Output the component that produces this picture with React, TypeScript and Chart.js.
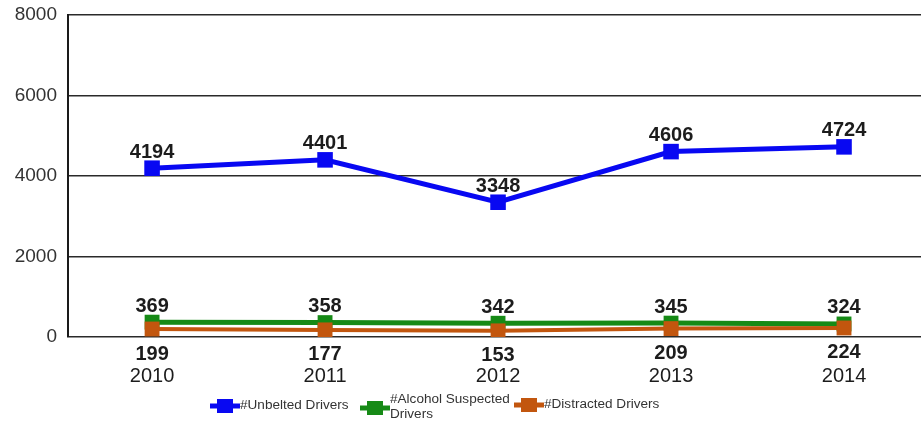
import React, { useEffect, useRef } from "react";
import { Chart, registerables } from "chart.js";

Chart.register(...registerables);

const years = [2010, 2011, 2012, 2013, 2014];
const unbelted = [4194, 4401, 3348, 4606, 4724];
const alcohol = [369, 358, 342, 345, 324];
const distracted = [199, 177, 153, 209, 224];
const yTicks = [0, 2000, 4000, 6000, 8000];
const seriesNames = ["#Unbelted Drivers", "#Alcohol Suspected Drivers", "#Distracted Drivers"];

const BLUE = "#0808f2";
const GREEN = "#168a16";
const BROWN = "#c2560e";
const FONT = '"Liberation Sans", Arial, sans-serif';

const CANVAS_W = 932;
const CANVAS_H = 423;

const labelOffsets = [-16, -16, 25];

const valueLabels = {
  id: "valueLabels",
  afterDatasetsDraw(chart: any) {
    const ctx = chart.ctx;
    ctx.save();
    ctx.font = `bold 20px ${FONT}`;
    ctx.fillStyle = "#1c1c1c";
    ctx.textAlign = "center";
    ctx.textBaseline = "middle";
    chart.data.datasets.forEach((ds: any, di: number) => {
      const meta = chart.getDatasetMeta(di);
      meta.data.forEach((el: any, i: number) => {
        ctx.fillText(String(ds.data[i].y), el.x, el.y + labelOffsets[di]);
      });
    });
    ctx.restore();
  },
};

const customLegend = {
  id: "customLegend",
  afterDraw(chart: any) {
    const ctx = chart.ctx;
    const items = [
      { x: 210, y: 406, color: BLUE, lines: [seriesNames[0]] },
      { x: 360, y: 408, color: GREEN, lines: ["#Alcohol Suspected", "Drivers"] },
      { x: 514, y: 405, color: BROWN, lines: [seriesNames[2]] },
    ];
    ctx.save();
    ctx.font = `12px ${FONT}`;
    ctx.textAlign = "left";
    ctx.textBaseline = "middle";
    const txt = (s: string, x: number, y: number) => {
      ctx.save();
      ctx.translate(x, y);
      ctx.scale(1.13, 1);
      ctx.fillText(s, 0, 0);
      ctx.restore();
    };
    items.forEach((it) => {
      ctx.strokeStyle = it.color;
      ctx.lineWidth = 5;
      ctx.beginPath();
      ctx.moveTo(it.x, it.y);
      ctx.lineTo(it.x + 30, it.y);
      ctx.stroke();
      ctx.fillStyle = it.color;
      ctx.fillRect(it.x + 7, it.y - 7, 16, 14);
      ctx.fillStyle = "#333";
      if (it.lines.length === 1) {
        txt(it.lines[0], it.x + 30, it.y);
      } else {
        txt(it.lines[0], it.x + 30, it.y - 8);
        txt(it.lines[1], it.x + 30, it.y + 7);
      }
    });
    ctx.restore();
  },
};

export default function App() {
  const ref = useRef<HTMLCanvasElement | null>(null);
  useEffect(() => {
    if (!ref.current) return;
    const mk = (arr: number[]) => years.map((yr, i) => ({ x: yr, y: arr[i] }));
    const chart = new Chart(ref.current, {
      type: "line",
      data: {
        datasets: [
          {
            label: seriesNames[0],
            data: mk(unbelted),
            borderColor: BLUE,
            backgroundColor: BLUE,
            borderWidth: 5,
            pointStyle: "rect",
            pointRadius: 11,
            pointBorderWidth: 0,
            order: 2,
          },
          {
            label: seriesNames[1],
            data: mk(alcohol),
            borderColor: GREEN,
            backgroundColor: GREEN,
            borderWidth: 5,
            pointStyle: "rect",
            pointRadius: 10.5,
            pointBorderWidth: 0,
            order: 1,
          },
          {
            label: seriesNames[2],
            data: mk(distracted),
            borderColor: BROWN,
            backgroundColor: BROWN,
            borderWidth: 4,
            pointStyle: "rect",
            pointRadius: 10.5,
            pointBorderWidth: 0,
            order: 0,
          },
        ],
      },
      options: {
        animation: false,
        responsive: false,
        layout: { padding: { top: 15, right: 0, left: 0, bottom: 0 } },
        plugins: { legend: { display: false }, tooltip: { enabled: false } },
        elements: { line: { tension: 0 } },
        scales: {
          x: {
            type: "linear",
            min: 2009.514,
            max: 2014.445,
            afterBuildTicks: (s: any) => {
              s.ticks = years.map((v) => ({ value: v }));
            },
            afterFit: (s: any) => {
              s.height = 86;
              s.paddingLeft = 0;
              s.paddingRight = 0;
            },
            grid: { display: false, drawTicks: false },
            border: { display: false },
            ticks: {
              padding: 27,
              color: "#1c1c1c",
              font: { family: FONT, size: 20 },
              callback: (v: any) => String(v),
              maxRotation: 0,
              autoSkip: false,
            },
          },
          y: {
            min: 0,
            max: 8000,
            afterBuildTicks: (s: any) => {
              s.ticks = yTicks.map((v) => ({ value: v }));
            },
            afterFit: (s: any) => {
              s.width = 68;
              s.paddingTop = 0;
              s.paddingBottom = 0;
            },
            grid: { color: "#2a2a2a", lineWidth: 1.5, drawTicks: false },
            border: { display: true, color: "#1a1a1a", width: 2 },
            ticks: {
              padding: 11,
              color: "#333",
              font: { family: FONT, size: 19 },
              callback: (v: any) => String(v),
            },
          },
        },
      },
      plugins: [valueLabels, customLegend],
    });
    return () => chart.destroy();
  }, []);
  return (
    <div style={{ position: "fixed", left: 0, top: 0, width: 921, height: 423, overflow: "hidden", background: "#fff" }}>
      <canvas ref={ref} width={CANVAS_W} height={CANVAS_H} style={{ width: CANVAS_W, height: CANVAS_H }} />
    </div>
  );
}
